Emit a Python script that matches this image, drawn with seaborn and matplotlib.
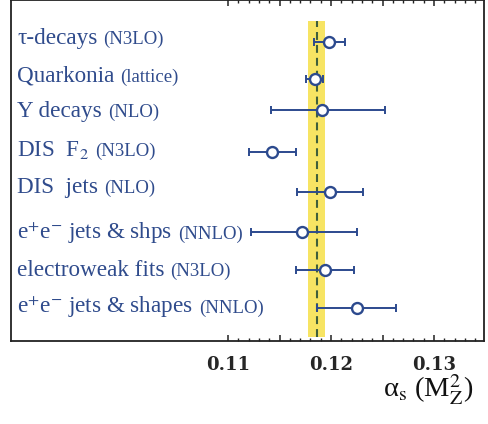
import matplotlib
matplotlib.use("Agg")
import matplotlib.pyplot as plt
import matplotlib.transforms as mtransforms
from matplotlib.ticker import FixedLocator, FuncFormatter
import seaborn as sns
import numpy as np
import pandas as pd

# ---- data ----
labels = ["τ-decays", "Quarkonia", "Υ decays", "DIS  F$_2$",
          "DIS  jets", "e$^{+}$e$^{-}$ jets & shps", "electroweak fits",
          "e$^{+}$e$^{-}$ jets & shapes"]
orders = ["(N3LO)", "(lattice)", "(NLO)", "(N3LO)", "(NLO)", "(NNLO)",
          "(N3LO)", "(NNLO)"]
alpha_s = [0.1198, 0.1184, 0.1191, 0.1143, 0.1199, 0.1172, 0.1194, 0.1225]
err_lo = [0.0015, 0.0008, 0.0049, 0.0023, 0.0032, 0.0050, 0.0028, 0.0039]
err_hi = [0.0016, 0.0008, 0.0061, 0.0023, 0.0032, 0.0053, 0.0028, 0.0038]
world_avg = 0.1186
world_err = 0.0008
major_ticks = [0.110, 0.115, 0.120, 0.125, 0.130]

# row placement (top to bottom), in row units: points and label baselines
row_y = [1.10, 2.08, 2.90, 3.99, 5.06, 6.11, 7.10, 8.11]
label_y = [1.16, 2.15, 3.08, 4.10, 5.09, 6.28, 7.26, 8.23]

df = pd.DataFrame({"label": labels, "order": orders, "alpha_s": alpha_s,
                   "lo": err_lo, "hi": err_hi, "row": row_y,
                   "label_row": label_y})

BLUE = "#2c4a8e"
TEXT = "#2f4b8c"

sns.set_theme(style="white")
plt.rcParams["font.family"] = ["Liberation Serif", "DejaVu Serif"]
plt.rcParams["mathtext.fontset"] = "stix"

fig = plt.figure(figsize=(4.88, 4.24), dpi=100)
ax = fig.add_axes([10.7 / 488, 83 / 424, 473.3 / 488, 341 / 424])

# world average band and dashed line
ax.axvspan(world_avg - world_err, world_avg + world_err, ymin=0.012, ymax=0.939,
           color="#f7e463", lw=0, zorder=1)
ax.axvline(world_avg, ymin=0.012, ymax=0.939, color="#3f5f3a", lw=1.5,
           dashes=(3.8, 2.4), zorder=2)

# error bars + open circles
ax.errorbar(df["alpha_s"], df["row"], xerr=[df["lo"], df["hi"]], fmt="none",
            ecolor=BLUE, elinewidth=1.4, capsize=3.2, capthick=1.4, zorder=3)
sns.scatterplot(data=df, x="alpha_s", y="row", ax=ax, marker="o", s=62,
                facecolor="white", edgecolor=BLUE, linewidth=1.7, zorder=4,
                legend=False)

ax.set_xlim(0.0889, 0.13485)
ax.set_ylim(341 / 38, 0)
ax.set_xlabel("")
ax.set_ylabel("")
ax.set_yticks([])

# ticks: inward, bottom + top, only from 0.11 on, labels every 0.01
ax.xaxis.set_major_locator(FixedLocator(major_ticks))
ax.xaxis.set_minor_locator(FixedLocator(np.arange(0.111, 0.1345, 0.001)))
ax.xaxis.set_major_formatter(FuncFormatter(
    lambda v, p: f"{v:.2f}" if abs(round(v * 100) - v * 100) < 1e-6 else ""))
ax.tick_params(axis="x", which="both", direction="in", top=True, bottom=True,
               color="#222222")
ax.tick_params(axis="x", which="major", length=4.5, width=1.1, pad=11,
               labelsize=13)
ax.tick_params(axis="x", which="minor", length=2.3, width=1.0)
for lab in ax.get_xticklabels():
    lab.set_fontweight("bold")
    lab.set_family("DejaVu Serif")
for sp in ax.spines.values():
    sp.set_color("#222222")
    sp.set_linewidth(1.3)

# row labels: main text + smaller order tag
trans = mtransforms.blended_transform_factory(ax.transAxes, ax.transData)
main_texts = []
for lab, y in zip(df["label"], df["label_row"]):
    t = ax.text(0.0135, y, lab, transform=trans, fontsize=16.7,
                color=TEXT, va="baseline", ha="left")
    main_texts.append(t)

fig.canvas.draw()
renderer = fig.canvas.get_renderer()
for t, tag, y in zip(main_texts, df["order"], df["label_row"]):
    bb = t.get_window_extent(renderer)
    x_ax = ax.transAxes.inverted().transform((bb.x1 + 6, bb.y0))[0]
    ax.text(x_ax, y, tag, transform=trans, fontsize=13.5,
            color=TEXT, va="baseline", ha="left")

# axis title at lower right
fig.text(473 / 488, 26 / 424, r"α$_{\rm s}$ (M$_{\rm Z}^{2}$)", fontsize=20.5,
         ha="right", va="baseline", color="#111111")

fig.savefig("out.png", dpi=100)
